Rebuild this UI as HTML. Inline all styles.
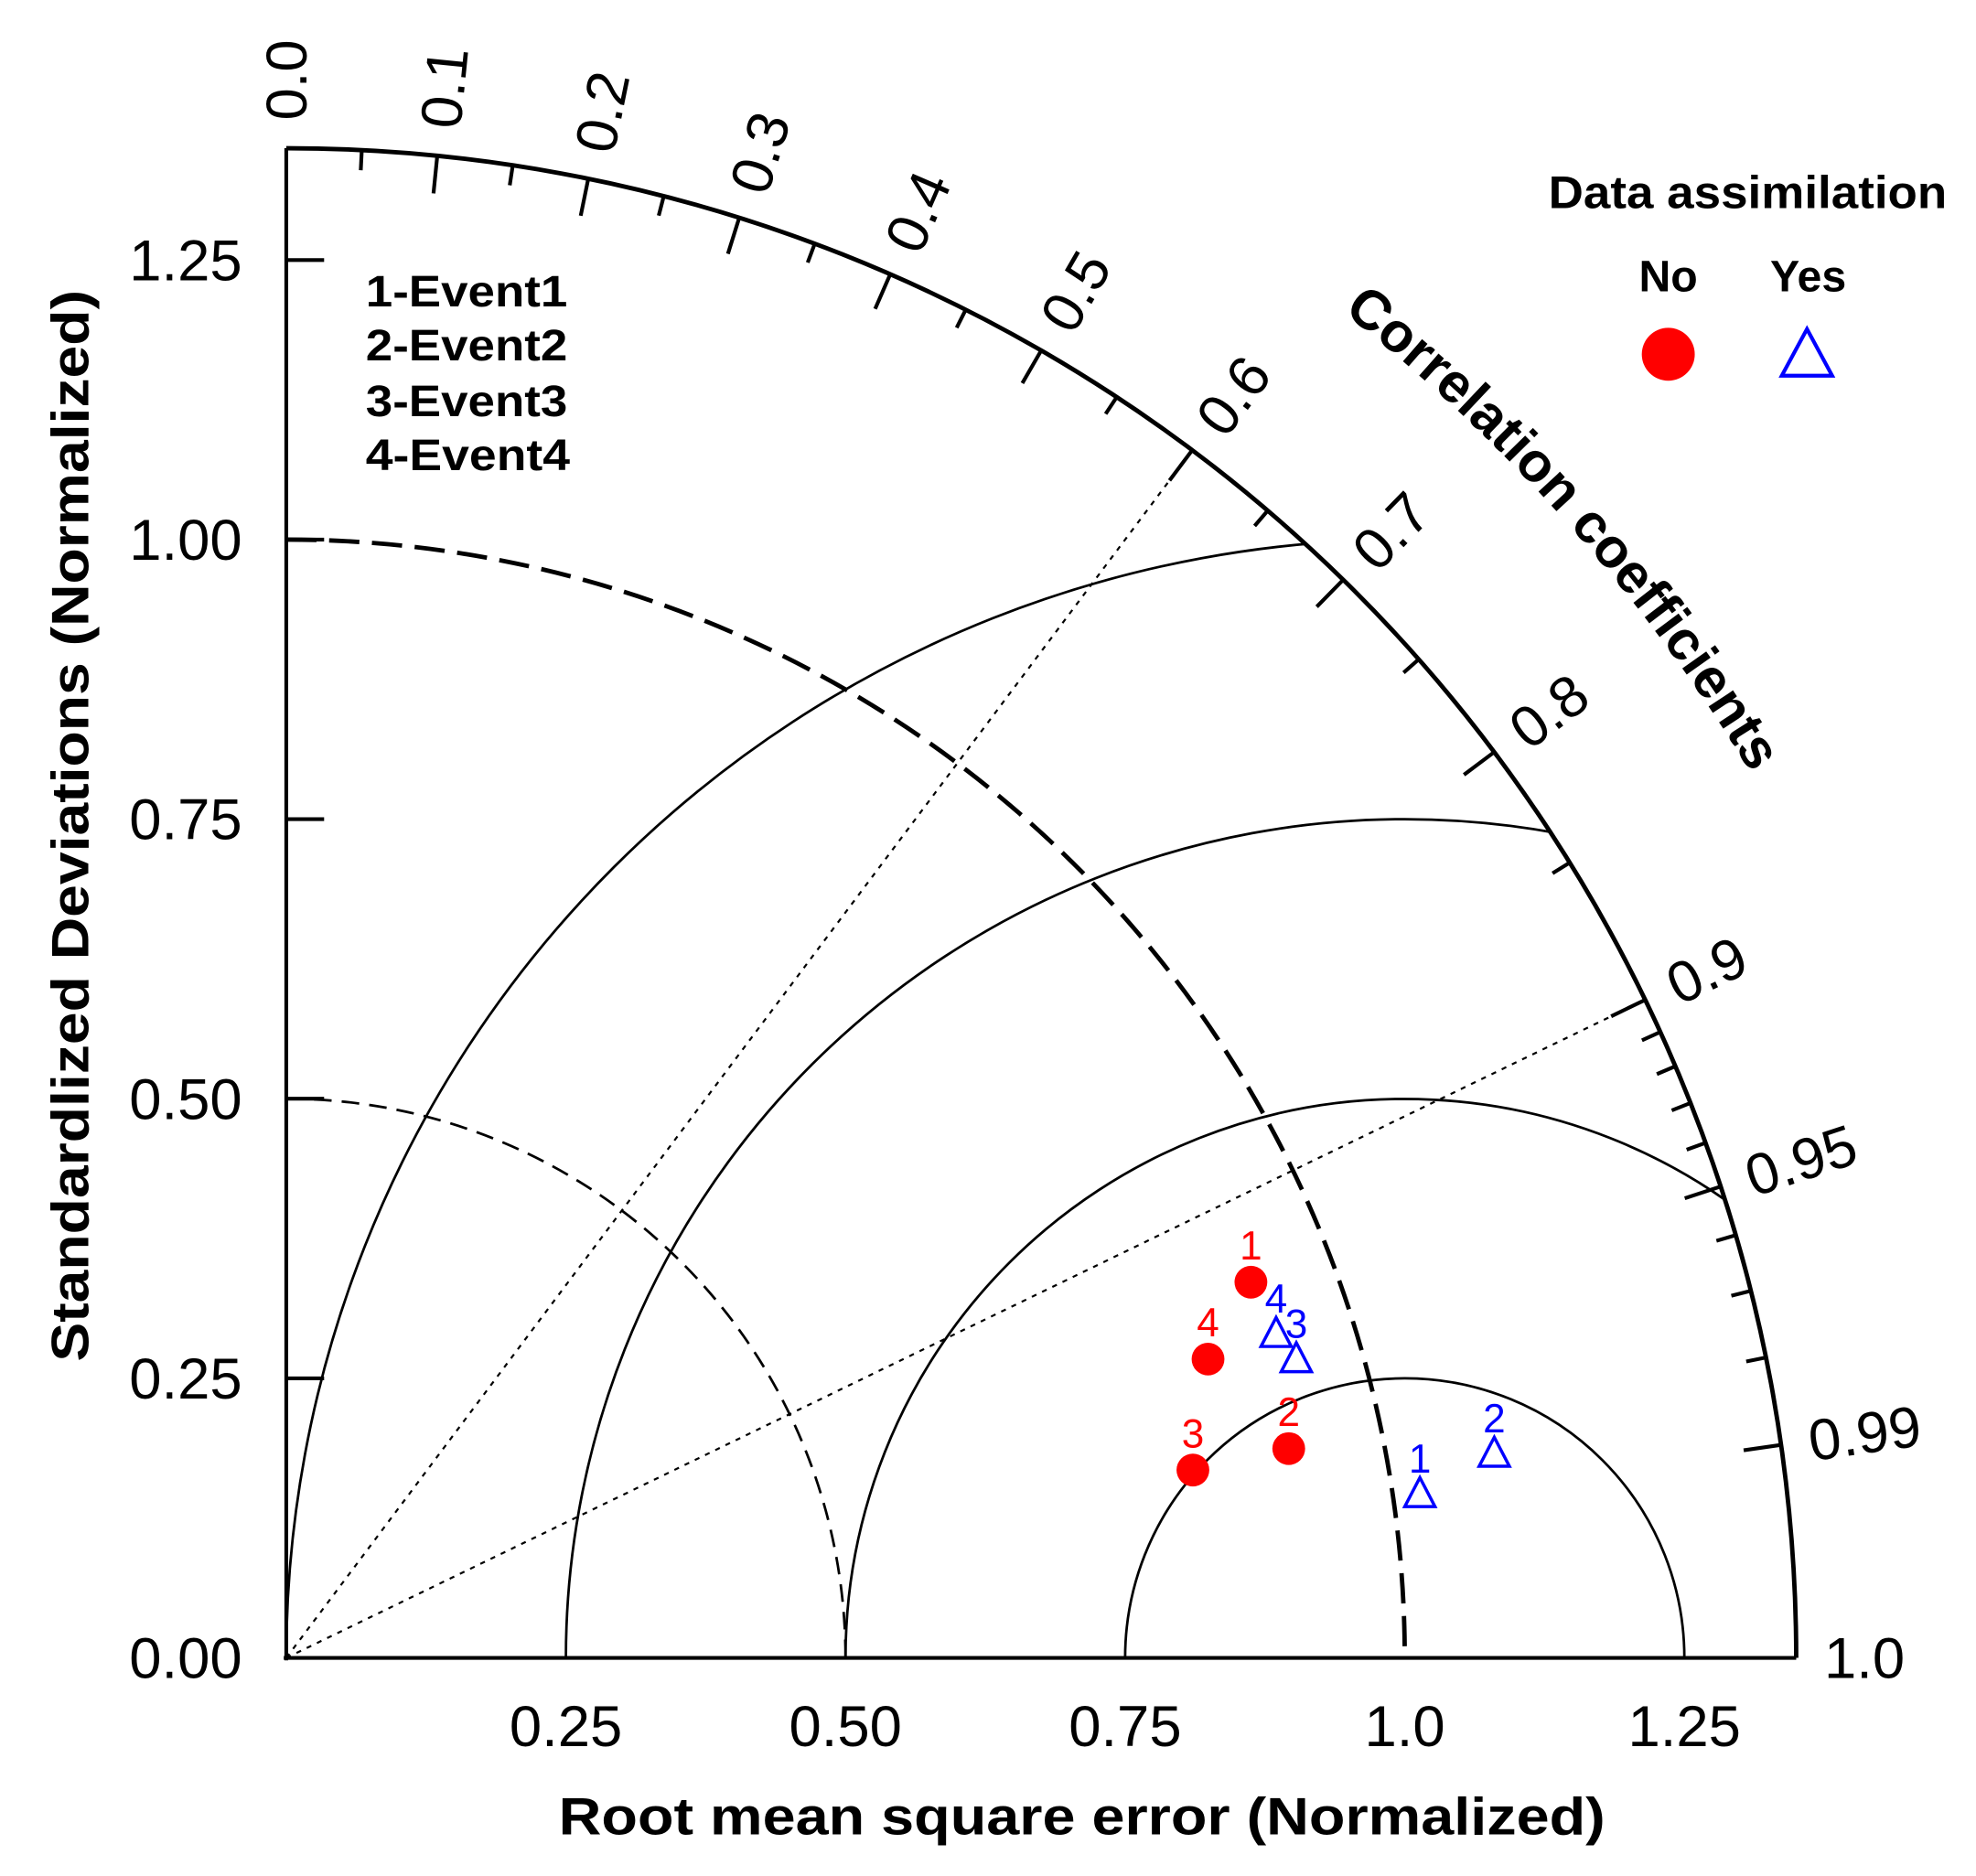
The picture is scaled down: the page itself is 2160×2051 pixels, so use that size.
<!DOCTYPE html>
<html><head><meta charset="utf-8"><style>
html,body{margin:0;padding:0;background:#fff}
svg{display:block}
text{font-family:"Liberation Sans",sans-serif}
</style></head><body>
<svg id="s" width="2160" height="2051" viewBox="0 0 1567 1488" xmlns="http://www.w3.org/2000/svg">
<defs>
<clipPath id="qc"><path d="M227,1315 L1424.5,1315 A1197.5,1197.5 0 0 0 227,117.5 Z"/></clipPath>
<path id="cc" d=""/>
</defs>
<g id="g"></g>
<text x="1386" y="165" font-size="36" font-weight="bold" text-anchor="middle" textLength="316" lengthAdjust="spacingAndGlyphs">Data assimilation</text>
<text x="1323" y="231" font-size="35" font-weight="bold" text-anchor="middle">No</text>
<text x="1434" y="231" font-size="35" font-weight="bold" text-anchor="middle">Yes</text>
<circle cx="1323" cy="281" r="21" fill="#f00"/>
<polygon points="1433,261 1453,298 1413,298" fill="none" stroke="#00f" stroke-width="3"/>
<g font-size="35" font-weight="bold">
<text x="290" y="243" textLength="160" lengthAdjust="spacingAndGlyphs">1-Event1</text>
<text x="290" y="286" textLength="160" lengthAdjust="spacingAndGlyphs">2-Event2</text>
<text x="290" y="330" textLength="160" lengthAdjust="spacingAndGlyphs">3-Event3</text>
<text x="290" y="373" textLength="162" lengthAdjust="spacingAndGlyphs">4-Event4</text>
</g>
<text x="858" y="1455" font-size="42" font-weight="bold" text-anchor="middle" textLength="830" lengthAdjust="spacingAndGlyphs">Root mean square error (Normalized)</text>
<text transform="translate(70,655) rotate(-90)" font-size="42" font-weight="bold" text-anchor="middle" textLength="850" lengthAdjust="spacingAndGlyphs">Standardlized Deviations (Normalized)</text>
</svg>
<script>
var NS="http://www.w3.org/2000/svg",g=document.getElementById('g');
var OX=227,OY=1315,U=887,RM=1.35;
function P(r,a){return [OX+r*U*Math.cos(a),OY-r*U*Math.sin(a)];}
function el(t,at,txt){var e=document.createElementNS(NS,t);for(var k in at)e.setAttribute(k,at[k]);if(txt!==undefined)e.textContent=txt;g.appendChild(e);return e;}
[0.25,0.5,0.75,1.0].forEach(function(r){
 var cx=OX+U,R=r*U;
 el('path',{d:'M'+(cx-R)+','+OY+' A'+R+','+R+' 0 0 1 '+(cx+R)+','+OY,fill:'none',stroke:'#000','stroke-width':2,'clip-path':'url(#qc)'});
});
el('path',{d:'M'+OX+','+(OY-0.5*U)+' A'+(0.5*U)+','+(0.5*U)+' 0 0 1 '+(OX+0.5*U)+','+OY,fill:'none',stroke:'#000','stroke-width':2,'stroke-dasharray':'14,8'});
el('path',{d:'M'+OX+','+(OY-U)+' A'+U+','+U+' 0 0 1 '+(OX+U)+','+OY,fill:'none',stroke:'#000','stroke-width':3.5,'stroke-dasharray':'24,10'});
[0.6,0.9].forEach(function(c){var a=Math.acos(c),p=P(RM,a);el('line',{x1:OX,y1:OY,x2:p[0],y2:p[1],stroke:'#000','stroke-width':1.6,'stroke-dasharray':'4,5'});});
el('path',{d:'M'+OX+','+(OY-RM*U)+' A'+(RM*U)+','+(RM*U)+' 0 0 1 '+(OX+RM*U)+','+OY,fill:'none',stroke:'#000','stroke-width':3.5});
el('line',{x1:OX,y1:OY-RM*U,x2:OX,y2:OY+2,stroke:'#000','stroke-width':3});
el('line',{x1:OX-2,y1:OY,x2:OX+RM*U,y2:OY,stroke:'#000','stroke-width':3});
[0,0.25,0.5,0.75,1.0,1.25].forEach(function(v){var y=OY-v*U;
 if(v>0)el('line',{x1:OX,y1:y,x2:OX+30,y2:y,stroke:'#000','stroke-width':3});
 el('text',{x:192,y:y+16,'font-size':46,'text-anchor':'end'},v.toFixed(2));});
[[0.25,'0.25'],[0.5,'0.50'],[0.75,'0.75'],[1.0,'1.0'],[1.25,'1.25']].forEach(function(d){
 el('text',{x:OX+d[0]*U,y:1385,'font-size':46,'text-anchor':'middle'},d[1]);});
var maj=[0.1,0.2,0.3,0.4,0.5,0.6,0.7,0.8,0.9,0.95,0.99],mn=[];
for(var i=0;i<9;i++)mn.push(0.05+0.1*i);
[0.91,0.92,0.93,0.94,0.96,0.97,0.98].forEach(function(v){mn.push(v);});
function tick(c,L){var a=Math.acos(c),p1=P(RM,a),p2=P(RM-L/U,a);el('line',{x1:p1[0],y1:p1[1],x2:p2[0],y2:p2[1],stroke:'#000','stroke-width':3});}
maj.forEach(function(c){tick(c,30);});mn.forEach(function(c){tick(c,16);});
[0,0.1,0.2,0.3,0.4,0.5,0.6,0.7,0.8,0.9,0.95,0.99,1.0].forEach(function(c){
 var a=Math.acos(c),p=P(1.375,a),deg=a*180/Math.PI;
 var t=(c===0)?'0.0':(c===1?'1.0':String(c));
 el('text',{transform:'translate('+p[0]+','+p[1]+') rotate('+(-deg)+')','font-size':46,dy:'0.35em'},t);});
var r=1.53,a1=71*Math.PI/180,a2=12*Math.PI/180,q1=P(r,a1),q2=P(r,a2);
document.getElementById('cc').setAttribute('d','M'+q1[0]+','+q1[1]+' A'+(r*U)+','+(r*U)+' 0 0 1 '+q2[0]+','+q2[1]);
var tt=el('text',{'font-size':44,'font-weight':'bold','text-anchor':'middle'});
var tp=document.createElementNS(NS,'textPath');tp.setAttribute('href','#cc');tp.setAttribute('startOffset','50%');tp.textContent='Correlation coefficients';tt.appendChild(tp);
[[992,1017,'1'],[958,1078,'4'],[946,1166,'3'],[1022,1149,'2']].forEach(function(d){
 el('circle',{cx:d[0],cy:d[1],r:13,fill:'#f00'});
 el('text',{x:d[0],y:d[1]-18,'font-size':32,fill:'#f00','text-anchor':'middle'},d[2]);});
[[1012,1058,'4'],[1028,1078,'3'],[1126,1185,'1'],[1185,1153,'2']].forEach(function(d){
 el('polygon',{points:d[0]+','+(d[1]-13)+' '+(d[0]+12)+','+(d[1]+10)+' '+(d[0]-12)+','+(d[1]+10),fill:'none',stroke:'#00f','stroke-width':2.5});
 el('text',{x:d[0],y:d[1]-17,'font-size':32,fill:'#00f','text-anchor':'middle'},d[2]);});
</script>
</body></html>
